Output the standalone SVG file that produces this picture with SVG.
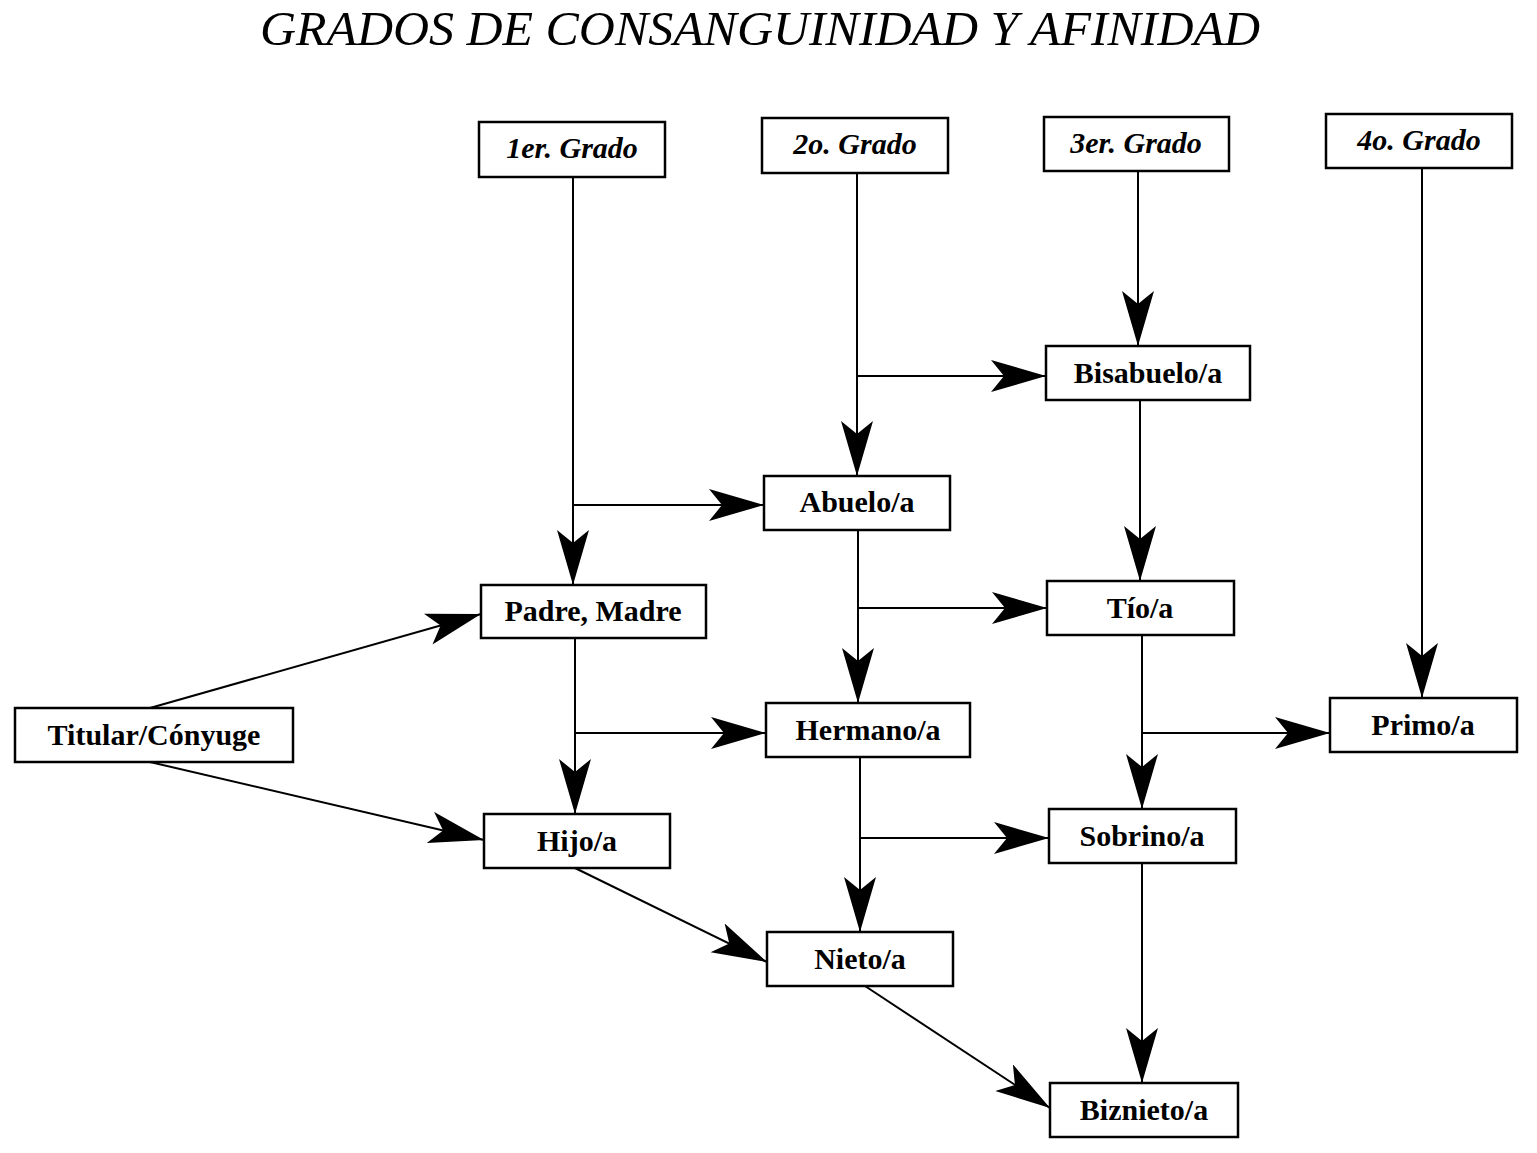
<svg xmlns="http://www.w3.org/2000/svg" width="1537" height="1153" viewBox="0 0 1537 1153">
<style>
.b{fill:#fff;stroke:#000;stroke-width:2.5}
.t{font-family:"Liberation Serif",serif;font-size:30px;font-weight:bold;text-anchor:middle}
.h{font-style:italic}
.c{stroke:#000;stroke-width:2;fill:none}
</style>
<defs><marker id="a" markerUnits="userSpaceOnUse" markerWidth="58" markerHeight="34" refX="55" refY="16" orient="auto"><path d="M0,0 L55,16 L0,32 L13,16 z" fill="#000"/></marker></defs>
<rect width="1537" height="1153" fill="#fff"/>
<text x="760" y="45" font-family="Liberation Serif,serif" font-size="48" font-style="italic" text-anchor="middle" textLength="1000" lengthAdjust="spacingAndGlyphs">GRADOS DE CONSANGUINIDAD Y AFINIDAD</text>
<g id="connectors" class="c" marker-end="url(#a)">
<path d="M573,177 V585"/><path d="M573,505 H764"/>
<path d="M857,173 V476"/><path d="M857,376 H1046"/>
<path d="M1138,171 V346"/>
<path d="M1140,400 V581"/>
<path d="M858,530 V703"/><path d="M858,608 H1047"/>
<path d="M575,638 V814"/><path d="M575,733 H766"/>
<path d="M1142,635 V809"/><path d="M1142,733 H1330"/>
<path d="M1422,168 V698"/>
<path d="M860,757 V932"/><path d="M860,838 H1049"/>
<path d="M1142,863 V1083"/>
<path d="M150,708 L481,614"/><path d="M150,762 L484,840"/>
<path d="M575,868 L767,962"/><path d="M865,986 L1050,1108"/>
</g>
<g id="g1"><rect class="b" x="479" y="122" width="186" height="55"/><text class="t h" x="572" y="158">1er. Grado</text></g>
<g id="g2"><rect class="b" x="762" y="118" width="186" height="55"/><text class="t h" x="855" y="154">2o. Grado</text></g>
<g id="g3"><rect class="b" x="1044" y="117" width="185" height="54"/><text class="t h" x="1136" y="153">3er. Grado</text></g>
<g id="g4"><rect class="b" x="1326" y="114" width="186" height="54"/><text class="t h" x="1419" y="150">4o. Grado</text></g>
<g id="bisabuelo"><rect class="b" x="1046" y="346" width="204" height="54"/><text class="t" x="1148" y="383">Bisabuelo/a</text></g>
<g id="abuelo"><rect class="b" x="764" y="476" width="186" height="54"/><text class="t" x="857" y="512">Abuelo/a</text></g>
<g id="padre"><rect class="b" x="481" y="585" width="225" height="53"/><text class="t" x="593" y="621">Padre, Madre</text></g>
<g id="tio"><rect class="b" x="1047" y="581" width="187" height="54"/><text class="t" x="1140" y="618">Tío/a</text></g>
<g id="titular"><rect class="b" x="15" y="708" width="278" height="54"/><text class="t" x="154" y="745">Titular/Cónyuge</text></g>
<g id="hermano"><rect class="b" x="766" y="703" width="204" height="54"/><text class="t" x="868" y="740">Hermano/a</text></g>
<g id="primo"><rect class="b" x="1330" y="698" width="187" height="54"/><text class="t" x="1423" y="735">Primo/a</text></g>
<g id="hijo"><rect class="b" x="484" y="814" width="186" height="54"/><text class="t" x="577" y="851">Hijo/a</text></g>
<g id="sobrino"><rect class="b" x="1049" y="809" width="187" height="54"/><text class="t" x="1142" y="846">Sobrino/a</text></g>
<g id="nieto"><rect class="b" x="767" y="932" width="186" height="54"/><text class="t" x="860" y="969">Nieto/a</text></g>
<g id="biznieto"><rect class="b" x="1050" y="1083" width="188" height="54"/><text class="t" x="1144" y="1120">Biznieto/a</text></g>
</svg>
